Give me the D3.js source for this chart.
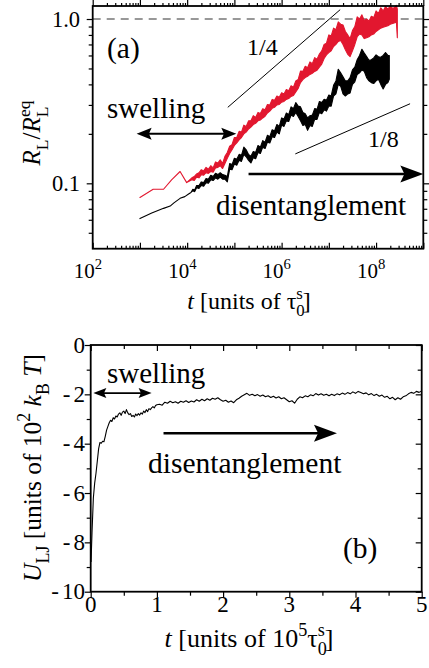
<!DOCTYPE html>
<html>
<head>
<meta charset="utf-8">
<script src="https://cdn.jsdelivr.net/npm/d3@7.9.0/dist/d3.min.js"></script>
<style>
  body { margin: 0; background: #fff; }
</style>
</head>
<body>
<script>
// ---- data (a): [log10 t, low, high] of R_L/R_L^eq ----
const redBand = [
  [3.00,0.082,0.082],[3.28,0.092,0.092],[3.50,0.092,0.092],[3.67,0.105,0.105],[3.85,0.118,0.118],[3.99,0.101,0.101],
  [4.10,0.105,0.108],[4.15,0.104,0.110],[4.20,0.109,0.114],[4.25,0.108,0.116],[4.30,0.113,0.121],[4.35,0.112,0.119],
  [4.40,0.116,0.125],[4.45,0.115,0.122],[4.50,0.118,0.128],[4.55,0.117,0.124],[4.60,0.124,0.135],[4.65,0.125,0.133],
  [4.70,0.128,0.139],[4.75,0.123,0.132],[4.80,0.132,0.146],[4.85,0.142,0.154],[4.90,0.152,0.168],[4.95,0.160,0.172],
  [5.00,0.170,0.190],[5.05,0.176,0.190],[5.10,0.184,0.207],[5.15,0.190,0.205],[5.20,0.200,0.226],[5.25,0.205,0.222],
  [5.30,0.214,0.240],[5.35,0.220,0.240],[5.40,0.228,0.258],[5.45,0.232,0.252],[5.50,0.240,0.270],[5.55,0.243,0.266],
  [5.60,0.250,0.284],[5.65,0.256,0.280],[5.70,0.268,0.302],[5.75,0.275,0.300],[5.80,0.286,0.324],[5.85,0.290,0.320],
  [5.90,0.300,0.340],[5.95,0.302,0.334],[6.00,0.312,0.356],[6.05,0.315,0.350],[6.10,0.324,0.372],[6.15,0.328,0.366],
  [6.20,0.338,0.392],[6.25,0.342,0.385],[6.30,0.360,0.420],[6.35,0.378,0.428],[6.40,0.410,0.482],[6.45,0.428,0.480],
  [6.50,0.440,0.516],[6.55,0.448,0.505],[6.60,0.460,0.548],[6.65,0.468,0.535],[6.70,0.480,0.582],[6.75,0.488,0.570],
  [6.80,0.510,0.612],[6.85,0.532,0.640],[6.90,0.575,0.700],[6.95,0.605,0.712],[7.00,0.625,0.800],[7.05,0.640,0.790],
  [7.10,0.680,0.880],[7.15,0.700,0.860],[7.20,0.730,0.960],[7.25,0.740,0.930],[7.30,0.700,0.920],[7.35,0.650,0.840],
  [7.40,0.610,0.800],[7.45,0.590,0.760],[7.50,0.640,0.850],[7.55,0.700,0.900],[7.60,0.780,1.030],[7.65,0.810,1.000],
  [7.70,0.800,1.060],[7.75,0.760,0.980],[7.80,0.770,1.000],[7.85,0.780,0.970],[7.90,0.800,1.040],[7.95,0.810,1.020],
  [8.00,0.840,1.120],[8.05,0.860,1.080],[8.10,0.880,1.170],[8.15,0.890,1.120],[8.20,0.900,1.190],[8.25,0.910,1.150],
  [8.30,0.930,1.200],[8.35,0.940,1.160],[8.40,0.950,1.180],[8.43,0.960,1.210],[8.45,0.770,1.150]
];
const blackBand = [
  [3.00,0.061,0.061],[3.25,0.066,0.066],[3.50,0.0704,0.0704],[3.64,0.0727,0.0727],[3.72,0.076,0.076],[3.85,0.081,0.081],
  [3.95,0.083,0.083],[4.03,0.086,0.086],[4.08,0.088,0.088],[4.12,0.090,0.092],[4.16,0.089,0.091],[4.20,0.094,0.097],
  [4.25,0.093,0.097],[4.30,0.097,0.102],[4.35,0.096,0.101],[4.40,0.101,0.107],[4.45,0.100,0.106],[4.50,0.105,0.112],
  [4.55,0.104,0.110],[4.60,0.108,0.115],[4.65,0.106,0.113],[4.70,0.109,0.116],[4.75,0.106,0.113],[4.80,0.106,0.112],
  [4.85,0.102,0.110],[4.90,0.122,0.132],[4.95,0.121,0.130],[5.00,0.131,0.142],[5.05,0.129,0.140],[5.10,0.138,0.150],
  [5.15,0.136,0.148],[5.20,0.150,0.166],[5.25,0.145,0.160],[5.30,0.138,0.150],[5.35,0.133,0.146],[5.40,0.143,0.156],
  [5.45,0.141,0.154],[5.50,0.154,0.170],[5.55,0.152,0.166],[5.60,0.166,0.182],[5.65,0.163,0.178],[5.70,0.178,0.196],
  [5.75,0.176,0.192],[5.80,0.192,0.212],[5.85,0.190,0.208],[5.90,0.205,0.228],[5.95,0.200,0.222],[6.00,0.226,0.250],
  [6.05,0.222,0.246],[6.10,0.240,0.268],[6.15,0.238,0.262],[6.20,0.260,0.292],[6.25,0.255,0.285],[6.30,0.270,0.310],
  [6.35,0.255,0.295],[6.40,0.240,0.292],[6.45,0.225,0.270],[6.50,0.228,0.265],[6.55,0.210,0.250],[6.60,0.225,0.258],
  [6.65,0.222,0.260],[6.70,0.245,0.285],[6.75,0.245,0.282],[6.80,0.270,0.315],[6.85,0.265,0.310],[6.90,0.280,0.325],
  [6.95,0.275,0.320],[7.00,0.295,0.345],[7.05,0.295,0.340],[7.10,0.340,0.395],[7.15,0.350,0.420],[7.20,0.400,0.495],
  [7.25,0.390,0.470],[7.30,0.350,0.445],[7.35,0.340,0.420],[7.40,0.350,0.420],[7.45,0.355,0.440],[7.50,0.400,0.490],
  [7.55,0.415,0.510],[7.60,0.460,0.565],[7.65,0.470,0.600],[7.70,0.490,0.655],[7.75,0.480,0.620],[7.80,0.440,0.590],
  [7.85,0.420,0.560],[7.90,0.410,0.565],[7.95,0.405,0.580],[8.00,0.420,0.605],[8.05,0.430,0.590],[8.10,0.400,0.585],
  [8.15,0.375,0.600],[8.20,0.400,0.625],[8.25,0.410,0.600],[8.28,0.430,0.600]
];
const slopeQuarter = [[4.86, 0.29], [7.24, 1.14]];
const slopeEighth = [[6.29, 0.151], [8.72, 0.305]];
const xLabelExpA = [2, 4, 6, 8];
const yLabelsA = [0.1, 1.0];

// ---- data (b): [t / 1e5 tau, U_LJ / 1e2 kT] ----
const ulj = [
  [0.005,-8.8],[0.02,-7.6],[0.04,-6.2],[0.06,-5.6],[0.08,-5.2],[0.10,-4.7],[0.12,-4.2],[0.14,-3.95],[0.16,-3.98],
  [0.18,-3.9],[0.20,-3.92],[0.22,-3.7],[0.24,-3.45],[0.26,-3.3],[0.28,-3.15],[0.30,-3.05],[0.32,-3.1],[0.34,-2.95],
  [0.36,-3.0],[0.38,-2.88],[0.40,-2.92],[0.42,-2.8],[0.44,-2.75],[0.46,-2.85],[0.48,-2.72],[0.50,-2.68],[0.52,-2.78],
  [0.54,-2.62],[0.56,-2.75],[0.58,-2.82],[0.60,-2.78],[0.62,-2.9],[0.64,-2.85],[0.66,-2.92],[0.68,-2.8],[0.70,-2.86],
  [0.72,-2.78],[0.74,-2.84],[0.76,-2.75],[0.78,-2.8],[0.80,-2.68],[0.82,-2.74],[0.84,-2.62],[0.86,-2.7],[0.88,-2.58],
  [0.90,-2.62],[0.92,-2.55],[0.94,-2.5],[0.96,-2.55],[0.98,-2.45],[1.00,-2.42],[1.04,-2.4],[1.08,-2.44],[1.12,-2.32],
  [1.16,-2.36],[1.20,-2.28],[1.24,-2.34],[1.28,-2.3],[1.32,-2.36],[1.36,-2.28],[1.40,-2.32],[1.44,-2.26],[1.48,-2.33],
  [1.52,-2.27],[1.56,-2.31],[1.60,-2.22],[1.64,-2.28],[1.68,-2.2],[1.72,-2.26],[1.76,-2.18],[1.80,-2.24],[1.84,-2.16],
  [1.88,-2.2],[1.92,-2.14],[1.96,-2.22],[2.00,-2.28],[2.04,-2.24],[2.08,-2.32],[2.12,-2.27],[2.16,-2.34],[2.20,-2.22],
  [2.24,-2.16],[2.28,-2.08],[2.32,-2.02],[2.36,-1.96],[2.40,-2.04],[2.44,-2.0],[2.48,-2.06],[2.52,-2.01],[2.56,-2.08],
  [2.60,-2.03],[2.64,-2.1],[2.68,-2.06],[2.72,-2.13],[2.76,-2.08],[2.80,-2.15],[2.84,-2.1],[2.88,-2.18],[2.92,-2.14],
  [2.96,-2.22],[3.00,-2.3],[3.04,-2.26],[3.08,-2.36],[3.12,-2.2],[3.16,-2.1],[3.20,-2.14],[3.24,-2.06],[3.28,-2.1],
  [3.32,-2.02],[3.36,-2.06],[3.40,-1.97],[3.44,-2.03],[3.48,-1.98],[3.52,-2.04],[3.56,-2.0],[3.60,-2.06],[3.64,-2.0],
  [3.68,-2.05],[3.72,-1.98],[3.76,-2.02],[3.80,-1.95],[3.84,-2.0],[3.88,-1.93],[3.92,-1.98],[3.96,-1.9],[4.00,-1.96],
  [4.04,-1.88],[4.08,-1.93],[4.12,-1.98],[4.16,-1.94],[4.20,-2.02],[4.24,-1.97],[4.28,-2.05],[4.32,-2.0],[4.36,-2.08],
  [4.40,-2.03],[4.44,-2.12],[4.48,-2.08],[4.52,-2.18],[4.56,-2.12],[4.60,-2.22],[4.64,-2.14],[4.68,-2.2],[4.72,-2.1],
  [4.76,-2.06],[4.80,-1.98],[4.84,-1.92],[4.88,-1.96],[4.92,-1.88],[4.96,-1.92],[5.00,-1.86]
];
const xTicksB = [0, 1, 2, 3, 4, 5];
const yTicksB = [0, -2, -4, -6, -8, -10];

const RED = '#e2172f';
const FONT = "'Liberation Serif'";
const svg = d3.select('body').append('svg').attr('width', 429).attr('height', 668)
  .style('display', 'block');

// rich text: parts = [{t, i, sub, sup, dx}]
function rich(sel, parts, size) {
  let shift = 0;
  parts.forEach(p => {
    const ts = sel.append('tspan').text(p.t);
    const target = p.sub ? size * 0.3 : p.sup ? -size * 0.42 : 0;
    if (target !== shift) { ts.attr('dy', target - shift); shift = target; }
    if (p.sub || p.sup) ts.attr('font-size', size * 0.7);
    if (p.i) ts.attr('font-style', 'italic');
    if (p.dx) ts.attr('dx', p.dx);
  });
  return sel;
}
function label(x, y, parts, size, anchor = 'start', rotate = false) {
  const t = svg.append('text').style('font-family', FONT).attr('font-size', size)
    .attr('text-anchor', anchor).attr('fill', '#000');
  if (rotate) t.attr('transform', `translate(${x},${y}) rotate(-90)`);
  else t.attr('x', x).attr('y', y);
  return rich(t, parts, size);
}
function arrowHead(g, x, y, dir, len, half) {
  // dir = 1 points right, -1 points left
  const p = [[x, y], [x - dir * len, y - half], [x - dir * len * 0.82, y], [x - dir * len, y + half]];
  g.append('path').attr('d', 'M' + p.join('L') + 'Z').attr('fill', '#000');
}
function arrow(x1, x2, y, w, len, half, both) {
  const g = svg.append('g');
  g.append('line').attr('x1', both ? x1 + len * 0.6 : x1).attr('x2', x2 - len * 0.6)
    .attr('y1', y).attr('y2', y).attr('stroke', '#000').attr('stroke-width', w);
  arrowHead(g, x2, y, 1, len, half);
  if (both) arrowHead(g, x1, y, -1, len, half);
}
function styleAxis(g, w) {
  g.select('.domain').remove();
  g.selectAll('line').attr('stroke', '#000').attr('stroke-width', w);
  g.selectAll('text').remove();
}

// ================= panel (a) =================
const xA = d3.scaleLog().domain([1e2, 1e9]).range([92.7, 423.3]);
const yA = d3.scaleLog().domain([0.04, 1.2]).range([248.7, 6]);

const majA = d3.range(2, 10).map(e => 10 ** e);
const minA = [];
d3.range(2, 9).forEach(e => d3.range(2, 10).forEach(m => minA.push(m * 10 ** e)));
const yMinA = [0.05, 0.06, 0.07, 0.08, 0.09, 0.2, 0.3, 0.4, 0.5, 0.6, 0.7, 0.8, 0.9];
const yMajA = [0.1, 1.0];

[[minA, 3], [majA, 6]].forEach(([vals, s]) => {
  styleAxis(svg.append('g').attr('transform', 'translate(0,248.7)')
    .call(d3.axisBottom(xA).tickValues(vals).tickSize(-s)), 1.2);
  styleAxis(svg.append('g').attr('transform', 'translate(0,6)')
    .call(d3.axisTop(xA).tickValues(vals).tickSize(s)), 1.2);
});
[[yMinA, 4], [yMajA, 6]].forEach(([vals, s]) => {
  styleAxis(svg.append('g').attr('transform', 'translate(92.7,0)')
    .call(d3.axisLeft(yA).tickValues(vals).tickSize(s)), 1.2);
  styleAxis(svg.append('g').attr('transform', 'translate(423.3,0)')
    .call(d3.axisRight(yA).tickValues(vals).tickSize(s)), 1.2);
});

// dashed reference at 1
svg.append('line').attr('x1', xA.range()[0]).attr('x2', xA.range()[1])
  .attr('y1', yA(1)).attr('y2', yA(1))
  .attr('stroke', '#777').attr('stroke-width', 1.5).attr('stroke-dasharray', '8,6');

const lineA = d3.line().x(d => xA(10 ** d[0])).y(d => yA(d[1]));
const bandA = d3.area().x(d => xA(10 ** d[0])).y0(d => yA(d[1])).y1(d => yA(d[2]));
svg.append('path').datum(slopeQuarter).attr('d', lineA).attr('fill', 'none').attr('stroke', '#000').attr('stroke-width', 1);
svg.append('path').datum(slopeEighth).attr('d', lineA).attr('fill', 'none').attr('stroke', '#000').attr('stroke-width', 1);
svg.append('path').datum(redBand).attr('d', bandA).attr('fill', RED).attr('stroke', RED).attr('stroke-width', 1.1).attr('stroke-linejoin', 'round');
svg.append('path').datum(blackBand).attr('d', bandA).attr('fill', '#000').attr('stroke', '#000').attr('stroke-width', 1.1).attr('stroke-linejoin', 'round');

svg.append('rect').attr('x', 92.7).attr('y', 6).attr('width', 423.3 - 92.7).attr('height', 248.7 - 6)
  .attr('fill', 'none').attr('stroke', '#000').attr('stroke-width', 1.8);

// tick labels
xLabelExpA.forEach(e => label(xA(10 ** e) - 19, 278, [{ t: '10' }, { t: String(e), sup: true }], 21));
yLabelsA.forEach(v => label(80, yA(v) + 7.5, [{ t: v.toFixed(1) }], 22.5, 'end'));

// axis titles
label(249, 309, [{ t: 't', i: true }, { t: ' [units of τ' }, { t: '0', sub: true }, { t: 's', sup: true, dx: -8.5 }, { t: ']' }], 24, 'middle');
label(40, 133, [{ t: 'R', i: true }, { t: 'L', sub: true }, { t: '/' }, { t: 'R', i: true }, { t: 'L', sub: true }, { t: 'eq', sup: true, dx: -10.5 }], 25, 'middle', true);

// annotations
label(107, 58, [{ t: '(a)' }], 29.5);
label(247, 55, [{ t: '1/4' }], 24);
label(368, 147, [{ t: '1/8' }], 24);
label(107, 118, [{ t: 'swelling' }], 29);
label(216, 215, [{ t: 'disentanglement' }], 29);
arrow(xA(10 ** 2.93), xA(10 ** 5.04), yA(0.2), 2, 15, 6, true);
arrow(xA(10 ** 5.3), xA(1e9), yA(0.114), 2.5, 23, 8.5, false);

// ================= panel (b) =================
const xB = d3.scaleLinear().domain([0, 5]).range([90.7, 421.7]);
const yB = d3.scaleLinear().domain([-10, 0]).range([591.7, 345]);
const xMinB = [0.5, 1.5, 2.5, 3.5, 4.5];
const yMinB = [-1, -3, -5, -7, -9];

[[xMinB, 4], [xTicksB, 6]].forEach(([vals, s]) => {
  styleAxis(svg.append('g').attr('transform', 'translate(0,591.7)')
    .call(d3.axisBottom(xB).tickValues(vals).tickSize(s)), 1.2);
  styleAxis(svg.append('g').attr('transform', 'translate(0,345)')
    .call(d3.axisBottom(xB).tickValues(vals).tickSize(s)), 1.2);
});
[[yMinB, 4], [yTicksB, 6]].forEach(([vals, s]) => {
  styleAxis(svg.append('g').attr('transform', 'translate(90.7,0)')
    .call(d3.axisLeft(yB).tickValues(vals).tickSize(s)), 1.2);
  styleAxis(svg.append('g').attr('transform', 'translate(421.7,0)')
    .call(d3.axisLeft(yB).tickValues(vals).tickSize(s)), 1.2);
});

const lineB = d3.line().x(d => xB(d[0])).y(d => yB(d[1]));
svg.append('path').datum(ulj).attr('d', lineB).attr('fill', 'none').attr('stroke', '#000').attr('stroke-width', 1.1).attr('stroke-linejoin', 'round');

svg.append('rect').attr('x', 90.7).attr('y', 345).attr('width', 421.7 - 90.7).attr('height', 591.7 - 345)
  .attr('fill', 'none').attr('stroke', '#000').attr('stroke-width', 1.8);

xTicksB.forEach(v => label(xB(v), 612, [{ t: String(v) }], 23, 'middle'));
yTicksB.forEach(v => label(85, yB(v) + 7.5,
  v === 0 ? [{ t: '0' }] : [{ t: '-' }, { t: String(Math.abs(v)), dx: 3 }], 23, 'end'));

label(249, 647, [{ t: 't', i: true }, { t: ' [units of 10' }, { t: '5', sup: true }, { t: 'τ' }, { t: '0', sub: true }, { t: 's', sup: true, dx: -9.1 }, { t: ']' }], 26, 'middle');
label(41, 468, [{ t: 'U', i: true }, { t: 'LJ', sub: true }, { t: ' [units of 10' }, { t: '2', sup: true }, { t: ' ' }, { t: 'k', i: true }, { t: 'B', sub: true }, { t: ' ' }, { t: 'T', i: true }, { t: ']' }], 25.5, 'middle', true);

label(107, 383, [{ t: 'swelling' }], 29);
label(148, 473, [{ t: 'disentanglement' }], 29.5);
label(343, 558, [{ t: '(b)' }], 29.5);
arrow(xB(0.04), xB(0.92), yB(-1.95), 1.6, 13, 5, true);
arrow(xB(1.10), xB(3.72), yB(-3.58), 2.5, 23, 8.5, false);
</script>
</body>
</html>
